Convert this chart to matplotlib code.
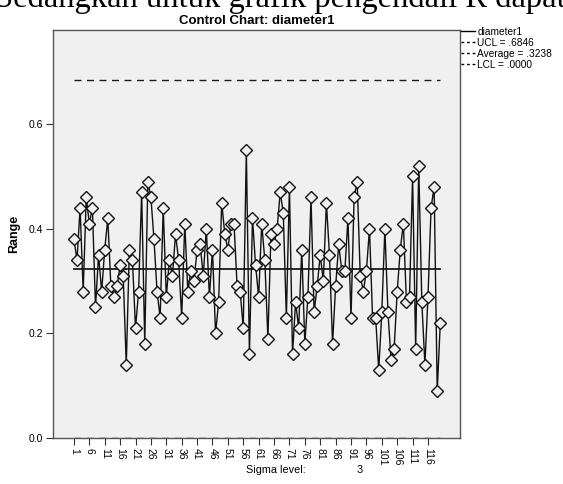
import matplotlib
matplotlib.use("Agg")
import matplotlib.pyplot as plt
from matplotlib.lines import Line2D

# R values per subgroup
range_vals = [0.38, 0.34, 0.44, 0.28, 0.46, 0.41, 0.44, 0.25, 0.35, 0.28,
              0.36, 0.42, 0.29, 0.27, 0.29, 0.33, 0.31, 0.14, 0.36, 0.34,
              0.21, 0.28, 0.47, 0.18, 0.49, 0.46, 0.38, 0.28, 0.23, 0.44,
              0.27, 0.34, 0.31, 0.39, 0.34, 0.23, 0.41, 0.28, 0.32, 0.30,
              0.36, 0.37, 0.31, 0.40, 0.27, 0.36, 0.20, 0.26, 0.45, 0.39,
              0.36, 0.41, 0.41, 0.29, 0.28, 0.21, 0.55, 0.16, 0.42, 0.33,
              0.27, 0.41, 0.34, 0.19, 0.39, 0.37, 0.40, 0.47, 0.43, 0.23,
              0.48, 0.16, 0.26, 0.21, 0.36, 0.18, 0.27, 0.46, 0.24, 0.29,
              0.35, 0.30, 0.45, 0.35, 0.18, 0.29, 0.37, 0.32, 0.32, 0.42,
              0.23, 0.46, 0.49, 0.31, 0.28, 0.32, 0.40, 0.23, 0.23, 0.13,
              0.24, 0.40, 0.24, 0.15, 0.17, 0.28, 0.36, 0.41, 0.26, 0.27,
              0.50, 0.17, 0.52, 0.26, 0.14, 0.27, 0.44, 0.48, 0.09, 0.22]
subgroups = list(range(1, len(range_vals) + 1))
ucl = 0.6846
avg = 0.3238
lcl = 0.0
xtick_vals = list(range(1, 117, 5))
ytick_vals = [0.0, 0.2, 0.4, 0.6]

plt.rcParams['font.family'] = ['Liberation Sans', 'DejaVu Sans']

fig = plt.figure(figsize=(5.63, 4.84), dpi=100)
ax = fig.add_axes([53 / 563, 1 - 438 / 484, 407 / 563, 408 / 484])
ax.set_facecolor('#f0f0f0')

ax.plot(subgroups, range_vals, color='#111111', lw=1.0, marker='D', ms=5.8,
        mfc='#f0f0f0', mec='#111111', mew=1.0, zorder=3)
ax.plot([subgroups[0], subgroups[-1]], [ucl, ucl], color='#1a1a1a', lw=1.0, ls=(0, (5, 4)))
ax.plot([subgroups[0], subgroups[-1]], [avg, avg], color='#1a1a1a', lw=1.3)
ax.plot([subgroups[0], subgroups[-1]], [lcl, lcl], color='#1a1a1a', lw=1.0, ls=(0, (5, 4)))

ax.set_xlim(-5.8, 126.4)
ax.set_ylim(0, 0.78)
ax.set_xticks(xtick_vals)
ax.set_xticklabels([str(v) for v in xtick_vals], rotation=270, fontsize=7.5)
ax.set_yticks(ytick_vals)
ax.set_yticklabels(['%.1f' % v for v in ytick_vals], fontsize=7.5)
ax.tick_params(direction='out', length=5, width=0.8, color='#333333', pad=2)
for s in ax.spines.values():
    s.set_color('#555555')
    s.set_linewidth(1.0)

ax.set_ylabel('Range', fontsize=9, fontweight='bold', labelpad=6)
ax.set_title('Control Chart: diameter1', fontsize=9.5, fontweight='bold', pad=4)

handles = [Line2D([], [], color='black', lw=1.0),
           Line2D([], [], color='black', lw=1.0, ls=(0, (2, 2))),
           Line2D([], [], color='black', lw=1.0, ls=(0, (2, 2))),
           Line2D([], [], color='black', lw=1.0, ls=(0, (2, 2)))]
labels = ['diameter1', 'UCL = .6846', 'Average = .3238', 'LCL = .0000']
fig.legend(handles, labels, loc='upper left', bbox_to_anchor=(461 / 563, 1 - 27 / 484),
           frameon=False, fontsize=7.3, handlelength=1.4, handletextpad=0.2,
           labelspacing=0.1, borderaxespad=0, borderpad=0)

fig.text(246 / 563, 1 - 470 / 484, 'Sigma level:', fontsize=7.8, va='center')
fig.text(357 / 563, 1 - 470 / 484, '3', fontsize=7.8, va='center')

# cut-off sentence of the surrounding document
fig.text(-0.008, 1 - 7 / 484, 'Sedangkan untuk grafik pengendali R dapat', fontsize=23.5,
         family='Liberation Serif', va='baseline', ha='left')

fig.savefig('out.png', dpi=100)
